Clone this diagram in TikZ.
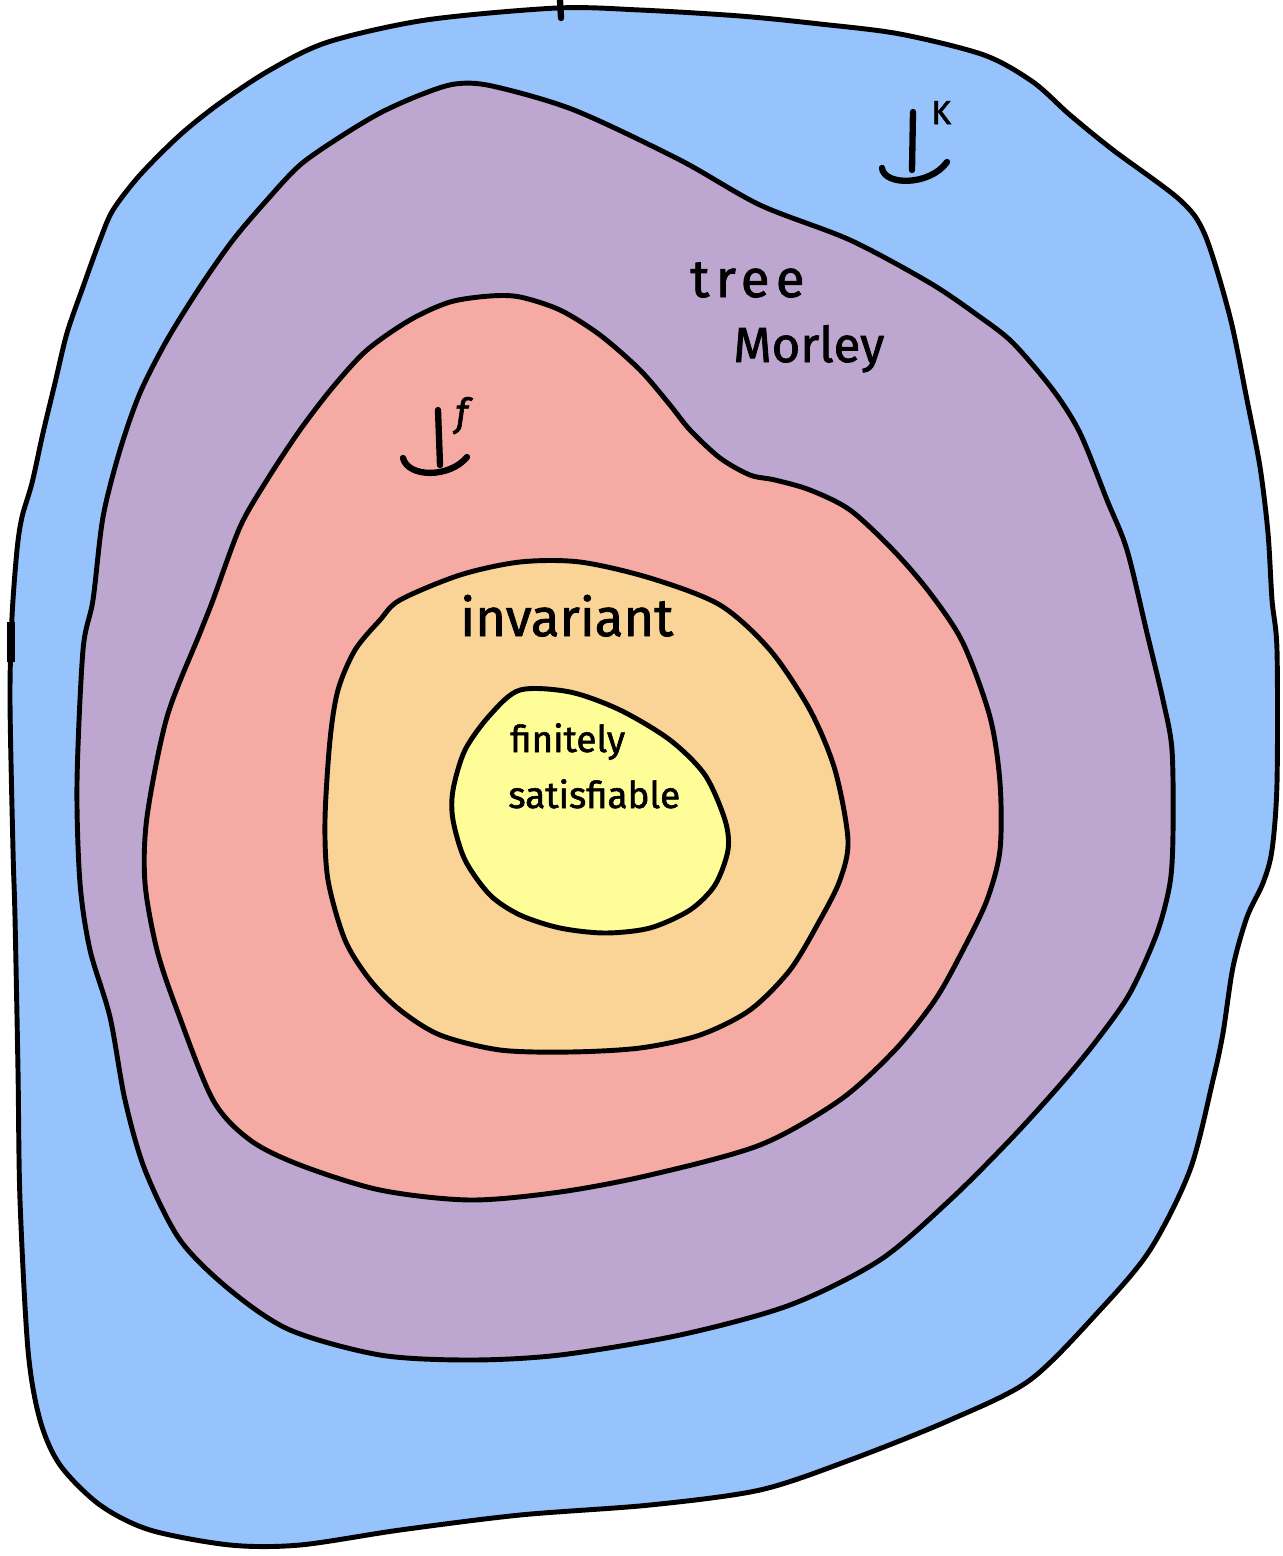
\documentclass[tikz,border=0pt]{standalone}
\usepackage{fontspec}
\setmainfont{Fira Sans}
\definecolor{cblue}{RGB}{151,195,253}
\definecolor{cpurple}{RGB}{189,166,207}
\definecolor{cred}{RGB}{246,170,164}
\definecolor{corange}{RGB}{249,212,150}
\definecolor{cyellow}{RGB}{254,253,152}
\begin{document}
\begin{tikzpicture}[x=0.02cm,y=-0.02cm,
  blob/.style={draw=black,line width=2.8pt,line join=round},
  lbl/.style={inner sep=0pt,text=black},
  symstroke/.style={draw=black,line width=3.6pt,line cap=round}]
\useasboundingbox (0,0) rectangle (1283,1556);
% outer blue
\path[blob,fill=cblue] plot[smooth cycle,tension=0.5] coordinates {
(557,8) (640,10) (740,16) (820,24) (900,34) (984,55) (1033,82) (1070,115)
(1113,150) (1180,200) (1205,235) (1230,317) (1247,400) (1260,467) (1268,533)
(1272,600) (1277,650) (1277,783) (1272,850) (1263,883) (1247,917) (1233,967)
(1223,1033) (1213,1080) (1190,1170) (1150,1250) (1100,1310) (1030,1380)
(950,1420) (850,1460) (760,1490) (650,1505) (520,1515) (400,1530) (300,1545)
(230,1545) (150,1530) (100,1505) (60,1465) (40,1420) (28,1350) (20,1200)
(18,1070) (15,917) (13,850) (10,700) (12,617) (17,550) (22,517) (32,483)
(43,433) (55,383) (67,333) (83,287) (100,240) (113,210) (140,175) (180,135)
(220,103) (270,70) (328,42) (426,20)};
% purple
\path[blob,fill=cpurple] plot[smooth cycle,tension=0.5] coordinates {
(455,84) (492,86) (574,110) (680,160) (760,205) (850,240) (930,283)
(980,317) (1013,343) (1053,390) (1080,433) (1107,500) (1127,550) (1147,633)
(1163,700) (1172,750) (1173,833) (1170,883) (1157,933) (1130,993) (1097,1040)
(1060,1085) (1010,1140) (950,1200) (880,1260) (790,1305) (680,1335) (560,1355)
(470,1360) (380,1355) (290,1330) (230,1290) (180,1240) (145,1170) (125,1100)
(110,1017) (90,950) (80,883) (77,783) (83,650) (93,600) (103,517) (120,450)
(140,393) (167,340) (200,287) (233,240) (267,200) (300,165) (340,137)
(380,113) (420,95)};
% red
\path[blob,fill=cred] plot[smooth cycle,tension=0.5] coordinates {
(450,302) (490,296) (520,297) (560,310) (600,335) (640,370) (670,405)
(690,430) (720,458) (750,475) (775,480) (810,490) (850,510) (893,550)
(930,593) (963,643) (990,717) (1000,783) (1000,850) (987,900) (963,950)
(935,1000) (895,1050) (840,1100) (760,1145) (650,1175) (560,1192) (470,1200)
(380,1190) (300,1165) (250,1140) (213,1100) (177,1010) (157,950) (145,883)
(147,817) (167,717) (200,633) (213,600) (240,527) (267,480) (300,430)
(333,387) (367,350) (410,320)};
% orange
\path[blob,fill=corange] plot[smooth cycle,tension=0.5] coordinates {
(400,600) (460,575) (520,562) (580,562) (650,578) (720,605) (770,650)
(810,710) (835,770) (848,840) (840,880) (820,920) (790,970) (750,1010)
(700,1035) (640,1048) (570,1052) (500,1050) (440,1035) (400,1010) (370,980)
(345,940) (328,880) (325,820) (330,740) (338,690) (355,650) (380,620)};
% yellow
\path[blob,fill=cyellow] plot[smooth cycle,tension=0.5] coordinates {
(520,690) (570,692) (620,710) (670,740) (705,775) (725,820) (728,850)
(715,885) (690,910) (650,928) (605,933) (560,928) (520,915) (490,895)
(465,860) (453,820) (453,790) (465,750) (490,715)};
% small pen marks
\draw[symstroke] (560,0) -- (561,18);
\draw[draw=black,line width=4.5pt] (11,622) -- (11,662);
% independence symbol K
\draw[symstroke] (913,112) -- (912,170);
\draw[symstroke] (882,168) .. controls (884,186) and (930,186) .. (947,162);
\node[lbl,font=\fontsize{19}{19}\selectfont\addfontfeatures{FakeBold=1.5},anchor=base west] (supK) at (931,124) {K};
% independence symbol f
\draw[symstroke] (438,410) -- (440,465);
\draw[symstroke] (403,458) .. controls (408,478) and (450,478) .. (467,457);
\node[lbl,font=\fontsize{22}{22}\selectfont\itshape\addfontfeatures{FakeBold=1.5},anchor=base west] (supf) at (455,426) {f};
% labels
\node[lbl,font=\fontsize{30}{30}\selectfont\addfontfeatures{LetterSpace=12,FakeBold=1.5},anchor=base west] (tree) at (690,297) {tree};
\node[lbl,font=\fontsize{28}{28}\selectfont\addfontfeatures{FakeBold=1.5},anchor=base west] (morley) at (733,362) {Morley};
\node[lbl,font=\fontsize{30}{30}\selectfont\addfontfeatures{FakeBold=1.5},anchor=base west] (inv) at (460,636) {invariant};
\node[lbl,font=\fontsize{21}{21}\selectfont\addfontfeatures{FakeBold=1.5},anchor=base west] (fin) at (510,752) {finitely};
\node[lbl,font=\fontsize{21}{21}\selectfont\addfontfeatures{FakeBold=1.5},anchor=base west] (sat) at (508,808) {satisfiable};
\end{tikzpicture}
\end{document}
